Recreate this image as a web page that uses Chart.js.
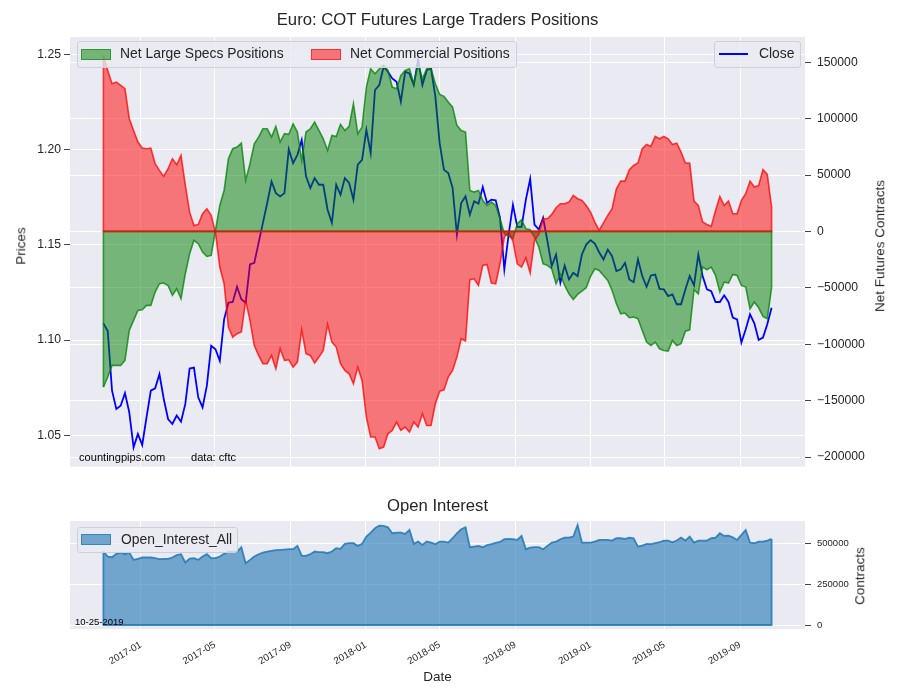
<!DOCTYPE html>
<html>
<head>
<meta charset="utf-8">
<title>Euro: COT Futures Large Traders Positions</title>
<script src="https://cdn.jsdelivr.net/npm/chart.js@4.4.0/dist/chart.umd.min.js"></script>
<style>
  body { margin: 0; background: #fff; font-family: "Liberation Sans", Arial, sans-serif; color: #262626; }
  #wrap { position: relative; width: 900px; height: 700px; overflow: hidden; }
  canvas { position: absolute; left: 0; }
  .txt { position: absolute; white-space: nowrap; line-height: 1; }
  .center { text-align: center; left: 70px; width: 735px; }
  .vert { transform: translate(-50%, -50%) rotate(-90deg); }
  .frame { position: absolute; box-sizing: border-box; border: 1px solid #cfcfd8; border-radius: 3px; background: rgba(234, 234, 242, 0.8); }
  .patch { position: absolute; box-sizing: border-box; border-width: 1.5px; border-style: solid; }
  .leg { position: absolute; font-size: 13.9px; line-height: 1; white-space: nowrap; }
</style>
</head>
<body>
<div id="wrap">
  <canvas id="cotChart" width="900" height="480" style="top:0;width:900px;height:480px"></canvas>
  <canvas id="oiChart" width="900" height="220" style="top:480px;width:900px;height:220px"></canvas>

  <div class="txt center" style="top:12px;font-size:16.7px">Euro: COT Futures Large Traders Positions</div>
  <div class="txt center" style="top:498px;font-size:16.7px">Open Interest</div>
  <div class="txt center" style="top:670px;font-size:13.5px">Date</div>
  <div class="txt vert" style="left:21px;top:246px;font-size:13.5px">Prices</div>
  <div class="txt vert" style="left:880px;top:246px;font-size:13.5px">Net Futures Contracts</div>
  <div class="txt vert" style="left:860px;top:576px;font-size:13.5px">Contracts</div>
  <div class="txt" style="left:79px;top:452px;font-size:11.1px;color:#000">countingpips.com</div>
  <div class="txt" style="left:191px;top:452px;font-size:11.1px;color:#000">data: cftc</div>
  <div class="txt" style="left:75px;top:617px;font-size:9.5px;color:#000">10-25-2019</div>

  <div class="frame" style="left:77px;top:41px;width:440px;height:27px"></div>
  <div class="patch" style="left:81px;top:49px;width:30px;height:11px;background:rgba(0,128,0,0.5);border-color:rgba(0,128,0,0.6)"></div>
  <div class="leg" style="left:120px;top:47px">Net Large Specs Positions</div>
  <div class="patch" style="left:311px;top:49px;width:30px;height:11px;background:rgba(255,0,0,0.5);border-color:rgba(255,0,0,0.6)"></div>
  <div class="leg" style="left:350px;top:47px">Net Commercial Positions</div>

  <div class="frame" style="left:714px;top:41px;width:87px;height:27px"></div>
  <div style="position:absolute;left:719px;top:53px;width:29px;height:2px;background:#0000ff"></div>
  <div class="leg" style="left:759px;top:47px">Close</div>

  <div class="frame" style="left:77px;top:527px;width:161px;height:26px"></div>
  <div class="patch" style="left:81px;top:534px;width:30px;height:11px;background:rgba(31,119,180,0.6);border-color:rgba(31,119,180,0.7)"></div>
  <div class="leg" style="left:121px;top:533px">Open_Interest_All</div>
</div>

<script>
// weekly COT reports, first one on 2016-11-01
const startDate = Date.UTC(2016, 10, 1);
const weekMs = 7 * 24 * 3600 * 1000;

const closePrices = [
  1.1088, 1.1048, 1.0735, 1.0639, 1.0656, 1.0722, 1.0621, 1.0438, 1.0508, 1.0450,
  1.0595, 1.0735, 1.0747, 1.0821, 1.0691, 1.0586, 1.0560, 1.0604, 1.0572, 1.0665,
  1.0851, 1.0856, 1.0700, 1.0647, 1.0761, 1.0970, 1.0952, 1.0891, 1.1109, 1.1196,
  1.1200, 1.1280, 1.1214, 1.1196, 1.1397, 1.1405, 1.1510, 1.1615, 1.1719, 1.1832,
  1.1771, 1.1754, 1.1771, 1.2001, 1.1928, 1.1972, 1.2050, 1.1859, 1.1798, 1.1850,
  1.1815, 1.1815, 1.1684, 1.1615, 1.1815, 1.1763, 1.1850, 1.1824, 1.1737, 1.1920,
  1.1946, 1.2103, 1.1981, 1.2312, 1.2338, 1.2434, 1.2408, 1.2373, 1.2355, 1.2251,
  1.2408, 1.2399, 1.2338, 1.2469, 1.2338, 1.2416, 1.2425, 1.2277, 1.2033, 1.1893,
  1.1876, 1.1798, 1.1554, 1.1719, 1.1754, 1.1658, 1.1728, 1.1716, 1.1803, 1.1719,
  1.1737, 1.1733, 1.1641, 1.1371, 1.1554, 1.1710, 1.1594, 1.1594, 1.1737, 1.1845,
  1.1606, 1.1580, 1.1641, 1.1519, 1.1388, 1.1449, 1.1301, 1.1391, 1.1318, 1.1353,
  1.1336, 1.1449, 1.1501, 1.1524, 1.1506, 1.1461, 1.1423, 1.1475, 1.1440, 1.1362,
  1.1371, 1.1405, 1.1318, 1.1304, 1.1423, 1.1336, 1.1280, 1.1339, 1.1344, 1.1269,
  1.1266, 1.1231, 1.1240, 1.1188, 1.1188, 1.1266, 1.1336, 1.1287, 1.1449, 1.1336,
  1.1266, 1.1257, 1.1200, 1.1200, 1.1235, 1.1200, 1.1118, 1.1109, 1.0987, 1.1057,
  1.1135, 1.1088, 1.1001, 1.1013, 1.1083, 1.1170
];

const netSpecs = [
  -138000, -129100, -118800, -118800, -118800, -114400, -87800, -78900, -70000, -69400,
  -65600, -65600, -53800, -46400, -45800, -47900, -56700, -50800, -59700, -37500,
  -19800, -8000, -10900, -18300, -22200, -21300, 1000, 23000, 36300, 64400,
  73300, 74800, 78300, 45200, 60000, 77700, 83600, 91000, 91000, 83600,
  93100, 79200, 86600, 86000, 95400, 88100, 62900, 88100, 91000, 96900,
  89500, 82100, 71800, 85100, 84200, 94900, 89500, 93100, 113200, 86600,
  92500, 128000, 144200, 139800, 144200, 147200, 142700, 128000, 126500, 138300,
  142700, 144200, 130900, 148600, 135300, 144200, 144200, 130900, 121500, 119700,
  114700, 110200, 94000, 89500, 88100, 36300, 34900, 36300, 27500, 23000,
  26000, 23000, 11200, -2100, -4100, -6500, 6800, 10300, 2400, 1500,
  -5000, -13900, -28700, -30100, -33100, -46400, -38100, -47900, -55300, -60300,
  -55800, -52900, -49900, -39900, -33100, -34600, -39000, -43400, -52300, -64100,
  -73000, -72400, -76500, -75900, -77400, -87800, -98100, -101100, -98100, -104000,
  -105500, -106100, -96600, -101100, -99600, -88400, -87200, -51700, -55300, -31600,
  -34000, -31600, -39000, -53800, -44900, -45800, -38100, -39000, -47900, -49300,
  -68600, -62600, -67700, -75400, -77400, -49900
];

const netCommercial = [
  156000, 142700, 130900, 132400, 129400, 126500, 99900, 89500, 79200, 73900,
  73300, 73900, 60000, 54100, 48800, 55600, 64400, 59100, 67400, 40800,
  17100, 5300, 6200, 15700, 20100, 14200, -1000, -31600, -46400, -84800,
  -93700, -90700, -89200, -61200, -78900, -101100, -109900, -117300, -117300, -109900,
  -121700, -104000, -114400, -113800, -120300, -115800, -87200, -108400, -109900, -116700,
  -111400, -105500, -82400, -98100, -102500, -117300, -123200, -126200, -135000, -120300,
  -132100, -164600, -182300, -182300, -192700, -191200, -179400, -176400, -169000, -176400,
  -173500, -177900, -169000, -173500, -161600, -172000, -172000, -152800, -141800, -140400,
  -129100, -123200, -111400, -95200, -97200, -42800, -42000, -47900, -30100, -29300,
  -45800, -46400, -28700, -5000, -600, -8600, -28700, -31600, -23300, -36900,
  -8000, -2700, 11200, 11200, 15100, 21000, 24500, 24500, 26000, 31900,
  29000, 27500, 23000, 17100, 8300, 900, 7500, 14200, 20100, 37800,
  44600, 44600, 54700, 58500, 60600, 73300, 77100, 75400, 84200, 82100,
  84200, 82100, 77100, 78300, 70300, 60600, 60600, 26900, 23000, 8300,
  6200, 4400, 18600, 31000, 23000, 26900, 15700, 15700, 27500, 33400,
  44600, 39300, 40800, 54700, 50500, 21600
];

const openInterest = [
  452600, 421900, 417800, 438300, 446500, 436200, 446500, 401400, 407600, 415700,
  415700, 415700, 411600, 405500, 407600, 407600, 415700, 430100, 436200, 385000,
  409600, 411600, 401400, 421900, 436200, 411600, 411600, 421900, 438300, 452600,
  452600, 452600, 479200, 380900, 401400, 421900, 436200, 446500, 452600, 456700,
  460800, 462800, 464900, 466900, 466900, 487400, 428000, 426000, 436200, 452600,
  448500, 448500, 442400, 452600, 473100, 469000, 499700, 503800, 503800, 487400,
  499700, 544800, 569300, 596000, 612400, 610300, 602100, 565200, 569300, 569300,
  561200, 585700, 499700, 514000, 493600, 514000, 507900, 497700, 514000, 514000,
  507900, 534500, 565200, 589800, 602100, 479200, 483300, 487400, 479200, 491500,
  497700, 505900, 512000, 528400, 530400, 528400, 524300, 548900, 466900, 477200,
  479200, 479200, 466900, 487400, 507900, 514000, 528400, 538600, 538600, 544800,
  616400, 507900, 507900, 507900, 514000, 524300, 524300, 524300, 520200, 534500,
  534500, 530400, 538600, 534500, 483300, 489500, 499700, 497700, 503800, 509900,
  520200, 520200, 509900, 520200, 538600, 520200, 544800, 507900, 520200, 520200,
  520200, 534500, 538600, 565200, 548900, 550900, 540700, 524300, 555000, 585700,
  507900, 503800, 514000, 514000, 520200, 530400
];

const dateTicks = ['2017-01', '2017-05', '2017-09', '2018-01', '2018-05', '2018-09', '2019-01', '2019-05', '2019-09'];
const priceTicks = [1.05, 1.10, 1.15, 1.20, 1.25];
const netTicks = [-200000, -150000, -100000, -50000, 0, 50000, 100000, 150000];
const oiTicks = [0, 250000, 500000];

Chart.defaults.font.family = '"Liberation Sans", Arial, sans-serif';
Chart.defaults.color = '#262626';

function toPoints(arr) {
  return arr.map((v, i) => ({ x: i, y: v }));
}

// position of the first day of a month on the week axis
function tickWeek(label) {
  const parts = label.split('-').map(Number);
  return (Date.UTC(parts[0], parts[1] - 1, 1) - startDate) / weekMs;
}

function setTicks(list) {
  return function (scale) { scale.ticks = list.map(v => ({ value: v })); };
}

function minusSign(v) {
  return v < 0 ? '\u2212' + Math.abs(v) : String(v);
}

const areaBg = {
  id: 'areaBg',
  beforeDraw(chart) {
    const a = chart.chartArea;
    chart.ctx.save();
    chart.ctx.fillStyle = '#EAEAF2';
    chart.ctx.fillRect(a.left, a.top, a.right - a.left, a.bottom - a.top);
    chart.ctx.restore();
  }
};

// outline the closed side of each filled area (base line and end edges)
const fillEdges = {
  id: 'fillEdges',
  afterDatasetsDraw(chart) {
    const ctx = chart.ctx;
    chart.data.datasets.forEach((ds, i) => {
      if (ds.fill !== 'origin') return;
      const pts = chart.getDatasetMeta(i).data;
      const y0 = chart.scales[ds.yAxisID].getPixelForValue(0);
      const first = pts[0], last = pts[pts.length - 1];
      ctx.save();
      ctx.strokeStyle = ds.borderColor;
      ctx.lineWidth = ds.borderWidth;
      ctx.beginPath();
      ctx.moveTo(first.x, first.y);
      ctx.lineTo(first.x, y0);
      ctx.lineTo(last.x, y0);
      ctx.lineTo(last.x, last.y);
      ctx.stroke();
      ctx.restore();
    });
  }
};

const xRange = { min: -7.75, max: 162.75 };

new Chart(document.getElementById('cotChart'), {
  type: 'line',
  data: {
    datasets: [
      {
        label: 'Net Large Specs Positions',
        data: toPoints(netSpecs),
        yAxisID: 'yNet',
        fill: 'origin',
        backgroundColor: 'rgba(0,128,0,0.5)',
        borderColor: 'rgba(0,128,0,0.75)',
        borderWidth: 1.6,
        order: 2
      },
      {
        label: 'Net Commercial Positions',
        data: toPoints(netCommercial),
        yAxisID: 'yNet',
        fill: 'origin',
        backgroundColor: 'rgba(255,0,0,0.5)',
        borderColor: 'rgba(255,0,0,0.75)',
        borderWidth: 1.6,
        order: 1
      },
      {
        label: 'Close',
        data: toPoints(closePrices),
        yAxisID: 'yPrice',
        fill: false,
        borderColor: '#0000ff',
        borderWidth: 1.8,
        order: 3
      }
    ]
  },
  options: {
    responsive: false,
    animation: false,
    layout: { padding: { top: 37, bottom: 12, left: 0, right: 0 } },
    elements: { point: { radius: 0 }, line: { tension: 0 } },
    plugins: { legend: { display: false }, tooltip: { enabled: false } },
    scales: {
      x: {
        type: 'linear',
        min: xRange.min,
        max: xRange.max,
        afterBuildTicks: setTicks(dateTicks.map(tickWeek)),
        afterFit: s => { s.height = 0; },
        ticks: { display: false },
        grid: { color: '#ffffff', lineWidth: 1, drawTicks: false },
        border: { display: false }
      },
      yPrice: {
        position: 'left',
        min: 1.0336,
        max: 1.2590,
        afterBuildTicks: setTicks(priceTicks),
        afterFit: s => { s.width = 70; },
        ticks: { font: { size: 12.2 }, padding: 3, callback: v => v.toFixed(2) },
        grid: { color: '#ffffff', lineWidth: 1, tickColor: '#444', tickLength: 6 },
        border: { display: false }
      },
      yNet: {
        position: 'right',
        min: -208570,
        max: 172360,
        afterBuildTicks: setTicks(netTicks),
        afterFit: s => { s.width = 95; },
        ticks: { font: { size: 12.2 }, padding: 6, callback: minusSign },
        grid: { color: '#ffffff', lineWidth: 1, tickColor: '#444', tickLength: 6 },
        border: { display: false }
      }
    }
  },
  plugins: [areaBg, fillEdges]
});

new Chart(document.getElementById('oiChart'), {
  type: 'line',
  data: {
    datasets: [{
      label: 'Open_Interest_All',
      data: toPoints(openInterest),
      yAxisID: 'yOI',
      fill: 'origin',
      backgroundColor: 'rgba(31,119,180,0.6)',
      borderColor: 'rgba(31,119,180,0.85)',
      borderWidth: 1.8
    }]
  },
  options: {
    responsive: false,
    animation: false,
    layout: { padding: { top: 41, bottom: 31, left: 70, right: 0 } },
    elements: { point: { radius: 0 }, line: { tension: 0 } },
    plugins: { legend: { display: false }, tooltip: { enabled: false } },
    scales: {
      x: {
        type: 'linear',
        min: xRange.min,
        max: xRange.max,
        afterBuildTicks: setTicks(dateTicks.map(tickWeek)),
        afterFit: s => { s.height = 40; },
        ticks: {
          autoSkip: false,
          maxRotation: 30,
          minRotation: 30,
          padding: 10,
          font: { size: 9.8 },
          callback: (v, i) => dateTicks[i]
        },
        grid: { color: '#ffffff', lineWidth: 1, drawTicks: false },
        border: { display: false }
      },
      yOI: {
        position: 'right',
        min: -24600,
        max: 640700,
        afterBuildTicks: setTicks(oiTicks),
        afterFit: s => { s.width = 95; },
        ticks: { font: { size: 9.5 }, padding: 6, callback: v => String(v) },
        grid: { color: '#ffffff', lineWidth: 1, tickColor: '#444', tickLength: 6 },
        border: { display: false }
      }
    }
  },
  plugins: [areaBg, fillEdges]
});
</script>
</body>
</html>
